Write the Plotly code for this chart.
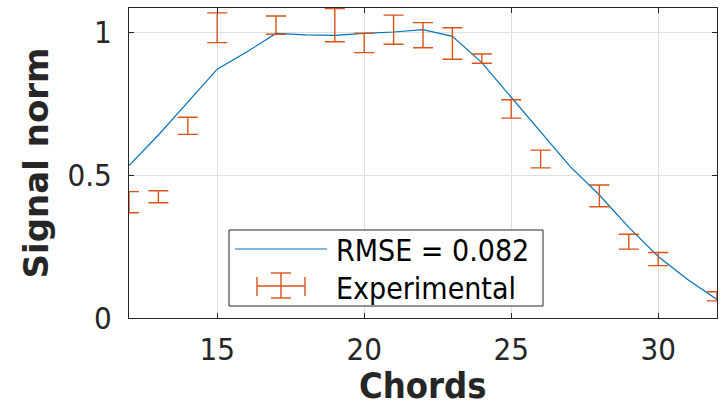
import plotly.graph_objects as go

# Measured signal (normalised) per chord, with error bars
chords_exp = [12, 13, 14, 15, 17, 19, 20, 21, 22, 23, 24, 25, 26, 28, 29, 30, 32]
signal_exp = [0.405, 0.424, 0.672, 1.015, 1.024, 1.024, 0.962, 1.008, 0.989,
              0.960, 0.907, 0.731, 0.556, 0.427, 0.267, 0.206, 0.076]
signal_err = [0.037, 0.021, 0.030, 0.052, 0.032, 0.058, 0.034, 0.051, 0.044,
              0.055, 0.016, 0.032, 0.031, 0.038, 0.026, 0.023, 0.016]

# Model prediction for every chord
chords_model = list(range(12, 33))
signal_model = [0.533, 0.640, 0.755, 0.870, 0.930, 0.995, 0.990, 0.988, 0.995,
                1.000, 1.008, 0.985, 0.893, 0.772, 0.650, 0.530, 0.430, 0.317,
                0.215, 0.135, 0.065]

model_label = "RMSE = 0.082"
exp_label = "Experimental"
x_title = "Chords"
y_title = "Signal norm"
x_ticks = [15, 20, 25, 30]
y_ticks = [0, 0.5, 1]

BLUE = "#0072BD"
ORANGE = "#D95319"
AX = "#262626"
FONT = "DejaVu Sans Condensed"

W, H = 721, 408
L, R, T, B = 129, 4, 8, 90
PW, PH = W - L - R, H - T - B


def px(x):
    return (x - L) / PW


def py(y):
    return (T + PH - y) / PH


fig = go.Figure()
fig.add_trace(go.Scatter(
    x=chords_model, y=signal_model, mode="lines",
    line=dict(color=BLUE, width=1.2), showlegend=False, name=model_label,
))
fig.add_trace(go.Scatter(
    x=chords_exp, y=signal_exp, mode="markers",
    marker=dict(size=1, color="rgba(0,0,0,0)"),
    error_y=dict(type="data", array=signal_err, color=ORANGE, thickness=1.4, width=10),
    showlegend=False, name=exp_label,
))

# Legend box drawn in pixel-based paper coordinates
shapes = [
    dict(type="rect", xref="paper", yref="paper", x0=px(229), x1=px(543), y0=py(306), y1=py(230),
         line=dict(color=AX, width=1), fillcolor="white", layer="above"),
    dict(type="line", xref="paper", yref="paper", x0=px(235), x1=px(327), y0=py(249), y1=py(249),
         line=dict(color=BLUE, width=1.2), layer="above"),
]
ex, ey = 281, 286
glyph = [
    (ex - 24, ey, ex + 24, ey),
    (ex, ey - 13, ex, ey + 12),
    (ex - 24, ey - 9, ex - 24, ey + 10),
    (ex + 24, ey - 9, ex + 24, ey + 10),
    (ex - 10, ey - 13, ex + 10, ey - 13),
    (ex - 10, ey + 12, ex + 10, ey + 12),
]
for x0, y0, x1, y1 in glyph:
    shapes.append(dict(type="line", xref="paper", yref="paper",
                       x0=px(x0), x1=px(x1), y0=py(y0), y1=py(y1),
                       line=dict(color=ORANGE, width=1.4), layer="above"))

annotations = [
    dict(xref="paper", yref="paper", x=px(334), y=py(250), text=model_label, showarrow=False,
         xanchor="left", yanchor="middle", font=dict(family=FONT, size=30, color="#000")),
    dict(xref="paper", yref="paper", x=px(334), y=py(288), text=exp_label, showarrow=False,
         xanchor="left", yanchor="middle", font=dict(family=FONT, size=30, color="#000")),
    # x-axis title, placed lower than the margin-bound axis title allows
    dict(xref="paper", yref="paper", x=0.5, y=py(385), text=f"<b>{x_title}</b>", showarrow=False,
         xanchor="center", yanchor="middle", font=dict(family=FONT, size=36, color=AX)),
]

axis_common = dict(
    showline=True, linecolor=AX, linewidth=1, mirror="ticks",
    ticks="inside", ticklen=5, tickcolor=AX, tickwidth=1,
    showgrid=True, gridcolor="#dedede", gridwidth=1, zeroline=False,
    tickfont=dict(family=FONT, size=31, color=AX),
)

fig.update_layout(
    width=W, height=H,
    margin=dict(l=L, r=R, t=T, b=B, autoexpand=False),
    paper_bgcolor="white", plot_bgcolor="white",
    shapes=shapes, annotations=annotations,
    xaxis=dict(range=[12, 32], tickvals=x_ticks, ticklabelstandoff=4, **axis_common),
    yaxis=dict(range=[0, 1.084], tickvals=y_ticks, ticklabelstandoff=10,
               title=dict(text=f"<b>{y_title}</b>", standoff=8,
                          font=dict(family="DejaVu Sans", size=34, color=AX)),
               **axis_common),
)

fig.write_html("out.html")
